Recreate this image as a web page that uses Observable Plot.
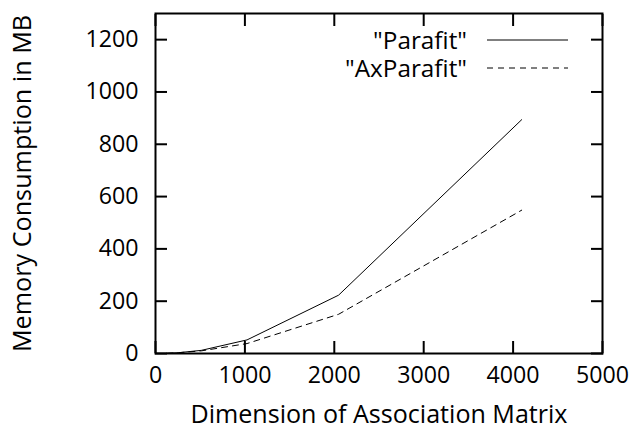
<!DOCTYPE html>
<html><head><meta charset="utf-8">
<script src="https://cdn.jsdelivr.net/npm/d3@7"></script>
<script src="https://cdn.jsdelivr.net/npm/@observablehq/plot@0.6"></script>
<style>
body{margin:0;background:#fff;}
#chart{position:relative;width:635px;height:434px;}
</style></head>
<body><div id="chart"></div>
<script>
const dims = [128, 256, 512, 1024, 2048, 4096];
const parafit = [1, 3, 12, 52, 223, 894];
const axParafit = [1, 3, 10, 38, 150, 548];
const xTicks = [0, 1000, 2000, 3000, 4000, 5000];
const yTicks = [0, 200, 400, 600, 800, 1000, 1200];
const seriesNames = ['"Parafit"', '"AxParafit"'];
const xLabel = "Dimension of Association Matrix";
const yLabel = "Memory Consumption in MB";

const rows = [];
dims.forEach((d, i) => {
  rows.push({x: d, y: parafit[i], s: seriesNames[0]});
  rows.push({x: d, y: axParafit[i], s: seriesNames[1]});
});

const font = "'Open Sans', sans-serif";
const FS = 24;
const TFS = 25;
const plot = Plot.plot({
  width: 635, height: 434,
  marginLeft: 155, marginRight: 33, marginTop: 13, marginBottom: 81,
  style: {fontFamily: font, fontSize: FS + "px", color: "#000", background: "#fff", overflow: "visible"},
  x: {domain: [0, 5000], axis: null},
  y: {domain: [0, 1300], axis: null},
  marks: [
    Plot.frame({stroke: "#000", strokeWidth: 2}),
    Plot.axisX(xTicks, {anchor: "bottom", tickSize: -12, strokeWidth: 2, text: null, label: null}),
    Plot.axisX(xTicks, {anchor: "top", tickSize: -12, strokeWidth: 2, text: null, label: null}),
    Plot.axisY(yTicks, {anchor: "left", tickSize: -12, strokeWidth: 2, text: null, label: null}),
    Plot.axisY(yTicks, {anchor: "right", tickSize: -12, strokeWidth: 2, text: null, label: null}),
    Plot.text(xTicks, {x: d => d, frameAnchor: "bottom", dy: 29, text: d => String(d), fontSize: TFS}),
    Plot.text(yTicks, {y: d => d, frameAnchor: "left", textAnchor: "end", dx: -17, text: d => String(d), fontSize: TFS}),
    Plot.text([xLabel], {frameAnchor: "bottom", dy: 69, fontSize: FS}),
    Plot.text([yLabel], {frameAnchor: "left", textAnchor: "middle", dx: -133, rotate: -90, fontSize: FS}),
    Plot.line(rows.filter(r => r.s === seriesNames[0]), {x: "x", y: "y", stroke: "#000", strokeWidth: 1}),
    Plot.line(rows.filter(r => r.s === seriesNames[1]), {x: "x", y: "y", stroke: "#000", strokeWidth: 1, strokeDasharray: "6,5"})
  ]
});
document.getElementById("chart").appendChild(plot);

// legend (gnuplot style, top-right inside frame)
const svg = d3.select(plot);
const lg = svg.append("g").attr("font-family", font).attr("font-size", 24);
seriesNames.forEach((name, i) => {
  const cy = 40 + i * 28;
  lg.append("text").attr("x", 467).attr("y", cy).attr("dy", "0.35em")
    .attr("text-anchor", "end").text(name);
  lg.append("line").attr("x1", 487).attr("x2", 568).attr("y1", cy).attr("y2", cy)
    .attr("stroke", "#000").attr("stroke-width", 1)
    .attr("stroke-dasharray", i === 1 ? "6,5" : null);
});

// calibrate font sizes so text widths match the reference
function calibrate() {
  const texts = Array.from(plot.querySelectorAll("text"));
  const find = s => texts.find(t => t.textContent === s);
  const fsOf = t => parseFloat(getComputedStyle(t).fontSize);
  const scaleFor = (s, target) => {
    const t = find(s); if (!t) return null;
    const w = t.getComputedTextLength(); if (!w) return null;
    return fsOf(t) * target / w;
  };
  const tickFs = scaleFor("1200", 53);
  const tickSet = new Set([...xTicks, ...yTicks].map(String));
  if (tickFs) texts.filter(t => tickSet.has(t.textContent)).forEach(t => t.style.fontSize = tickFs + "px");
  const xfs = scaleFor(xLabel, 377);
  const yfs = scaleFor(yLabel, 337);
  if (xfs) find(xLabel).style.fontSize = xfs + "px";
  if (yfs) find(yLabel).style.fontSize = yfs + "px";
  const lfs = scaleFor(seriesNames[1], 122);
  if (lfs) texts.filter(t => seriesNames.includes(t.textContent)).forEach(t => t.style.fontSize = lfs + "px");
}
calibrate();
if (document.fonts && document.fonts.ready) document.fonts.ready.then(calibrate);
</script></body></html>
